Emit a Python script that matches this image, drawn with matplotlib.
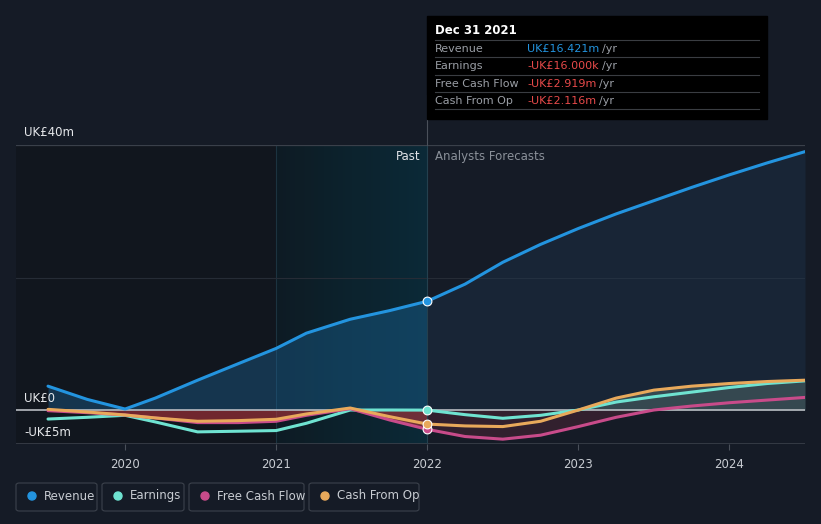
import numpy as np
import matplotlib
matplotlib.use('Agg')
import matplotlib.pyplot as plt
from matplotlib.patches import Rectangle, FancyBboxPatch

# --- data (UK£ m) ---
years = [2019.49, 2019.75, 2020.0, 2020.2, 2020.48, 2020.75, 2021.0, 2021.2, 2021.49,
         2021.75, 2022.0, 2022.25, 2022.5, 2022.75, 2023.0, 2023.25, 2023.5, 2023.75,
         2024.0, 2024.25, 2024.5]
revenue = [3.6, 1.6, 0.15, 1.8, 4.5, 7.0, 9.3, 11.6, 13.7, 15.0, 16.42, 19.0, 22.3,
           25.0, 27.4, 29.6, 31.6, 33.6, 35.5, 37.3, 39.0]
earnings = [-1.36, -1.1, -0.8, -1.8, -3.3, -3.2, -3.1, -2.0, 0.0, 0.0, -0.016, -0.7,
            -1.25, -0.8, 0.0, 1.2, 2.0, 2.7, 3.4, 4.0, 4.4]
fcf = [-0.1, -0.4, -0.75, -1.2, -1.9, -1.9, -1.7, -0.8, 0.2, -1.5, -2.92, -4.0, -4.4,
       -3.8, -2.5, -1.1, 0.0, 0.6, 1.1, 1.5, 1.9]
cfo = [0.1, -0.3, -0.75, -1.2, -1.7, -1.6, -1.4, -0.6, 0.3, -1.0, -2.12, -2.4, -2.5,
       -1.7, 0.0, 1.8, 3.0, 3.6, 4.0, 4.3, 4.5]
tick_years = [2020, 2021, 2022, 2023, 2024]
series_names = ["Revenue", "Earnings", "Free Cash Flow", "Cash From Op"]
tip_values = ["UK£16.421m", "-UK£16.000k", "-UK£2.919m", "-UK£2.116m"]

BG = "#151b26"
C_REV, C_EARN, C_FCF, C_CFO = "#2394df", "#6fe3d1", "#c84b8a", "#e8a95b"
colors = [C_REV, C_EARN, C_FCF, C_CFO]

x = np.array(years)
rev, ear, fc, co = (np.array(v) for v in (revenue, earnings, fcf, cfo))

fig = plt.figure(figsize=(8.21, 5.24), dpi=100, facecolor=BG)
W, H = 821, 524
ax = fig.add_axes([16 / W, 1 - 444 / H, (805 - 16) / W, (444 - 145) / H])
ax.set_facecolor(BG)
x0 = 2019.49 - (48 - 16) / 151.0
x1 = 2024.5
ax.set_xlim(x0, x1)
ax.set_ylim(-5.13, 40)
for s in ax.spines.values():
    s.set_visible(False)
ax.set_yticks([])
ax.set_xticks(tick_years)
ax.set_xticklabels([str(t) for t in tick_years], color="#c8ccd2", fontsize=8.5)
ax.tick_params(axis='x', length=4, color="#4a505a", pad=6)

# background regions
ax.axvspan(x0, 2021.0, color="#0e1218", alpha=0.55, lw=0, zorder=0)
grad = np.linspace(0, 1, 256).reshape(1, -1)
ax.imshow(grad, extent=[2021.0, 2022.0, -5.13, 40], aspect='auto',
          cmap=matplotlib.colors.LinearSegmentedColormap.from_list(
              "g", ["#0e1c24", "#0a2c3a"]), alpha=0.9, zorder=0.5)
ax.axvline(2021.0, color="#1c3340", lw=0.8, zorder=0.6)

# gridlines
ax.axhline(40, color="#3a404a", lw=0.9, zorder=1)
ax.axhline(20, color="#262c36", lw=0.8, zorder=1)
ax.axhline(-5.13, color="#3a404a", lw=1.2, zorder=1)

past = x <= 2022.0
fut = x >= 2022.0

# revenue fill
ax.fill_between(x[past], 0, rev[past], color="#1d6fa8", alpha=0.35, lw=0, zorder=2)
ax.fill_between(x[fut], 0, rev[fut], color="#1e3a55", alpha=0.35, lw=0, zorder=2)

# negative / positive fills
ax.fill_between(x[past], 0, np.minimum(fc[past], 0), color="#c0363c", alpha=0.55,
                lw=0, zorder=2)
ax.fill_between(x[fut], 0, np.minimum(fc[fut], 0), color="#6a2a3e", alpha=0.35,
                lw=0, zorder=2)
ax.fill_between(x[fut], 0, np.maximum(co[fut], 0), color="#7a9a8e", alpha=0.3,
                lw=0, zorder=2)

ax.axhline(0, color="#b8bcc2", lw=1.2, zorder=3)

for vals, c in zip([rev, ear, fc, co], colors):
    ax.plot(x, vals, color=c, lw=2.2, zorder=4, solid_capstyle='round',
            solid_joinstyle='round')

# markers at Dec 31 2021
idx = years.index(2022.0)
for vals, c in zip([fc, co, ear, rev], [C_FCF, C_CFO, C_EARN, C_REV]):
    ax.scatter([2022.0], [vals[idx]], s=40, color=c, edgecolor="white",
               linewidth=0.8, zorder=6)

# past / forecast divider
ax.plot([2022.0, 2022.0], [-5.13, 40], color="#24404e", lw=0.8, zorder=3)
ax.plot([2022.0, 2022.0], [40, 47.5], color="#4a505a", lw=0.8, zorder=3,
        clip_on=False)
ax.text(2022.0 - 7 / 151, 38.3, "Past", color="#e0e3e8", fontsize=8.5, ha='right',
        va='center', zorder=7)
ax.text(2022.0 + 8 / 151, 38.3, "Analysts Forecasts", color="#8a9099", fontsize=8.5,
        ha='left', va='center', zorder=7)

# y labels
for txt, yp in [("UK£40m", 132), ("UK£0", 398), ("-UK£5m", 432)]:
    fig.text(24 / W, 1 - yp / H, txt, color="#e6e8eb", fontsize=8.5, ha='left',
             va='center')

# tooltip
fig.patches.append(Rectangle((427 / W, 1 - 119 / H), (767 - 427) / W, (119 - 16) / H,
                             transform=fig.transFigure, color="#000000", zorder=10))
fig.text(435 / W, 1 - 31 / H, "Dec 31 2021", color="white", fontsize=8.5,
         fontweight='bold', va='center', zorder=11)
rows_y = [49, 66, 84, 101]
for i, (name, val, yp) in enumerate(zip(series_names, tip_values, rows_y)):
    fig.lines.append(plt.Line2D([435 / W, 759 / W], [1 - (yp - 9) / H] * 2,
                                transform=fig.transFigure, color="#3a3d42", lw=0.8,
                                zorder=11))
    fig.text(435 / W, 1 - yp / H, name, color="#9a9ea5", fontsize=8, va='center',
             zorder=11)
    vc = C_REV if i == 0 else "#e84a4a"
    t = fig.text(527 / W, 1 - yp / H, val, color=vc, fontsize=8, va='center', zorder=11)
    fig.canvas.draw()
    bb = t.get_window_extent()
    fig.text(bb.x1 / W + 3 / W, 1 - yp / H, "/yr", color="#9a9ea5", fontsize=8,
             va='center', zorder=11)
fig.lines.append(plt.Line2D([435 / W, 759 / W], [1 - 109 / H] * 2,
                            transform=fig.transFigure, color="#3a3d42", lw=0.8, zorder=11))

# legend
boxes = [(16, 97), (102, 184), (189, 304), (309, 419)]
for (bx0, bx1), name, c in zip(boxes, series_names, colors):
    fig.patches.append(FancyBboxPatch((bx0 / W, 1 - 511 / H), (bx1 - bx0) / W, 28 / H,
                                      boxstyle="round,pad=0,rounding_size=0.004",
                                      transform=fig.transFigure, facecolor=BG,
                                      edgecolor="#3c424c", lw=0.8))
    fig.patches.append(matplotlib.patches.Ellipse(((bx0 + 16) / W, 1 - 496 / H),
                                                  8 / W, 8 / H,
                                                  transform=fig.transFigure, color=c))
    fig.text((bx0 + 28) / W, 1 - 496 / H, name, color="#c8ccd2", fontsize=8.5,
             va='center')

fig.savefig("out.png", dpi=100, facecolor=BG)
